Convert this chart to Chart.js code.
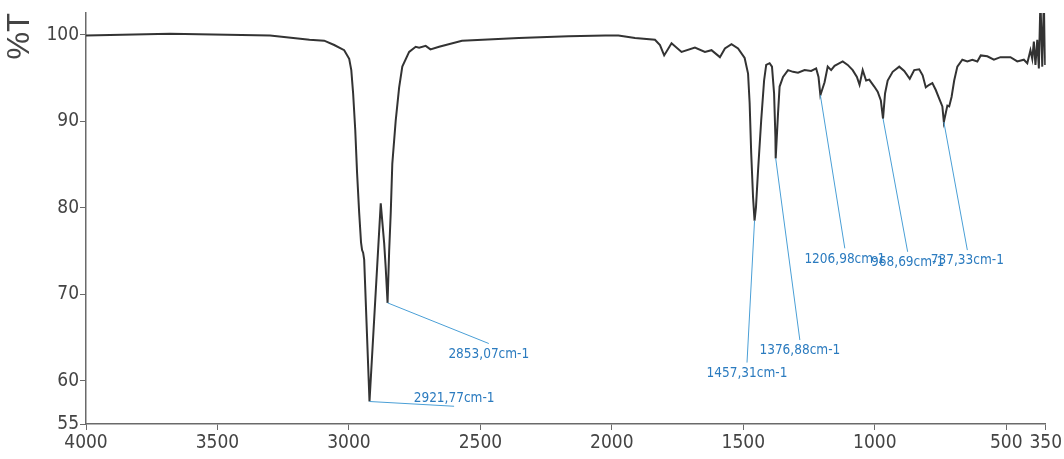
<!DOCTYPE html>
<html>
<head>
<meta charset="utf-8">
<script src="https://cdn.jsdelivr.net/npm/chart.js@4.4.1/dist/chart.umd.min.js"></script>
<style>
  html, body { margin: 0; padding: 0; background: #fff; }
  #ir-chart { display: block; }
</style>
</head>
<body>
<canvas id="ir-chart" width="1064" height="459"></canvas>
<script>
// IR spectrum (wavenumber in cm-1, transmittance in %T)
const wavenumbers = [
  4000, 3680, 3300, 3150, 3094, 3056, 3018, 2999, 2991, 2984,
  2976, 2969, 2961, 2954, 2950, 2946, 2942, 2921.77, 2879, 2866,
  2860, 2853.07, 2847, 2841, 2835, 2822, 2809, 2797, 2771, 2746,
  2733, 2708, 2690, 2657, 2570, 2354, 2165, 2025, 1975, 1912,
  1836, 1817, 1801, 1773, 1735, 1684, 1646, 1621, 1589, 1570,
  1545, 1520, 1495, 1482, 1476, 1470, 1463, 1457.31, 1452, 1444,
  1432, 1421, 1413, 1400, 1391, 1383, 1378, 1376.88, 1368, 1362,
  1349, 1330, 1311, 1292, 1267, 1242, 1223, 1214, 1206.98, 1191,
  1179, 1166, 1153, 1141, 1122, 1103, 1084, 1068, 1058, 1046,
  1033, 1021, 1002, 989, 977, 968.69, 961, 951, 932, 907,
  888, 867, 850, 831, 818, 806, 793, 781, 768, 755,
  743, 737.33, 724, 717, 708, 698, 686, 667, 648, 629,
  610, 597, 572, 547, 522, 484, 458, 433, 420, 408,
  401, 395, 389, 382, 376, 370, 363, 357, 352
];
const transmittance = [
  99.9, 100.1, 99.9, 99.4, 99.3, 98.8, 98.2, 97.2, 95.9, 93.2,
  89.0, 84.0, 79.4, 76.0, 75.1, 74.8, 74.0, 57.6, 80.5, 75.9,
  73.0, 69.0, 75.0, 79.4, 85.1, 90.1, 93.9, 96.3, 98.0, 98.6,
  98.5, 98.7, 98.3, 98.6, 99.3, 99.6, 99.8, 99.9, 99.9, 99.6,
  99.4, 98.8, 97.6, 99.0, 98.0, 98.5, 98.0, 98.2, 97.4, 98.4,
  98.9, 98.4, 97.3, 95.5, 92.1, 86.3, 81.2, 78.5, 80.0, 84.3,
  90.1, 94.7, 96.5, 96.7, 96.3, 93.2, 88.2, 85.7, 90.9, 94.0,
  95.1, 95.9, 95.7, 95.6, 95.9, 95.8, 96.1, 95.1, 93.0, 94.5,
  96.3, 95.9, 96.4, 96.6, 96.9, 96.5, 95.9, 95.1, 94.2, 95.9,
  94.7, 94.8, 94.0, 93.4, 92.4, 90.3, 93.2, 94.7, 95.7, 96.3,
  95.8, 94.9, 95.9, 96.0, 95.3, 93.9, 94.2, 94.4, 93.6, 92.6,
  91.7, 89.9, 91.8, 91.7, 92.8, 94.7, 96.3, 97.1, 96.9, 97.1,
  96.9, 97.6, 97.5, 97.1, 97.4, 97.4, 96.9, 97.1, 96.7, 98.2,
  97.2, 99.2, 96.5, 99.4, 96.1, 104, 96.3, 104, 96.5
];

const xTicks = [4000, 3500, 3000, 2500, 2000, 1500, 1000, 500, 350];
const yTicks = [55, 60, 70, 80, 90, 100];

// picked peaks and where their leader lines end (data units)
const peakWn = [2921.77, 2853.07, 1457.31, 1376.88, 1206.98, 968.69, 737.33];
const peakT = [57.6, 69.0, 78.5, 85.7, 93.0, 90.3, 89.9];
const peakLabels = ['2921,77cm-1', '2853,07cm-1', '1457,31cm-1', '1376,88cm-1', '1206,98cm-1', '968,69cm-1', '737,33cm-1'];
const leaderWn = [2600, 2468, 1486, 1285, 1114, 875, 648];
const leaderT = [57.05, 64.3, 62.1, 64.7, 75.3, 74.9, 75.1];

const AXIS_COLOR = '#6a6a6a';
const TEXT_COLOR = '#444';
const NARROW = "'Liberation Sans Narrow', 'Arial Narrow', 'DejaVu Sans Condensed', sans-serif";

const peakPicker = {
  id: 'peakPicker',
  afterDatasetsDraw(chart) {
    const { ctx, scales: { x, y } } = chart;
    ctx.save();
    ctx.strokeStyle = '#4a9fd6';
    ctx.lineWidth = 1;
    ctx.fillStyle = '#2b7bbf';
    ctx.font = '13.5px ' + NARROW;
    ctx.textAlign = 'center';
    peakWn.forEach((wn, i) => {
      const px = x.getPixelForValue(wn);
      const py = y.getPixelForValue(peakT[i]);
      const ex = x.getPixelForValue(leaderWn[i]);
      const ey = y.getPixelForValue(leaderT[i]);
      ctx.beginPath();
      ctx.moveTo(px, py);
      ctx.lineTo(ex, ey);
      ctx.stroke();
      if (i === 0) {
        ctx.textBaseline = 'bottom';
        ctx.fillText(peakLabels[i], ex, ey - 1);
      } else {
        ctx.textBaseline = 'top';
        ctx.fillText(peakLabels[i], ex, ey + 4);
      }
    });
    ctx.restore();
  }
};

const ctx = document.getElementById('ir-chart').getContext('2d');
new Chart(ctx, {
  type: 'line',
  data: {
    datasets: [{
      data: wavenumbers.map((wn, i) => ({ x: wn, y: transmittance[i] })),
      borderColor: '#333',
      borderWidth: 2,
      pointRadius: 0,
      tension: 0,
      fill: false,
      clip: 0
    }]
  },
  options: {
    responsive: false,
    animation: false,
    devicePixelRatio: 1,
    layout: { padding: { top: 13, right: 15, left: 0, bottom: 0 } },
    plugins: {
      legend: { display: false },
      tooltip: { enabled: false }
    },
    scales: {
      x: {
        type: 'linear',
        reverse: true,
        min: 350,
        max: 4000,
        afterBuildTicks: s => { s.ticks = xTicks.map(v => ({ value: v })); },
        afterFit: s => { s.height = 35; },
        grid: { drawOnChartArea: false, drawTicks: true, tickLength: 6, color: AXIS_COLOR },
        border: { display: true, color: AXIS_COLOR, width: 1.5 },
        ticks: {
          autoSkip: false,
          maxRotation: 0,
          padding: 2,
          color: TEXT_COLOR,
          font: { family: NARROW, size: 19 },
          callback: v => String(v)
        }
      },
      y: {
        min: 55,
        max: 102.5,
        afterBuildTicks: s => { s.ticks = yTicks.map(v => ({ value: v })); },
        afterFit: s => { s.width = 86; },
        grid: { drawOnChartArea: false, drawTicks: true, tickLength: 6, color: AXIS_COLOR },
        border: { display: true, color: AXIS_COLOR, width: 1.5 },
        title: {
          display: true,
          text: '%T',
          align: 'end',
          color: TEXT_COLOR,
          font: { family: "'Liberation Sans', Arial, sans-serif", size: 31 },
          padding: { top: 2, bottom: 0 }
        },
        ticks: {
          padding: 1,
          color: TEXT_COLOR,
          font: { family: NARROW, size: 19 },
          callback: v => String(v)
        }
      }
    }
  },
  plugins: [peakPicker]
});
</script>
</body>
</html>
